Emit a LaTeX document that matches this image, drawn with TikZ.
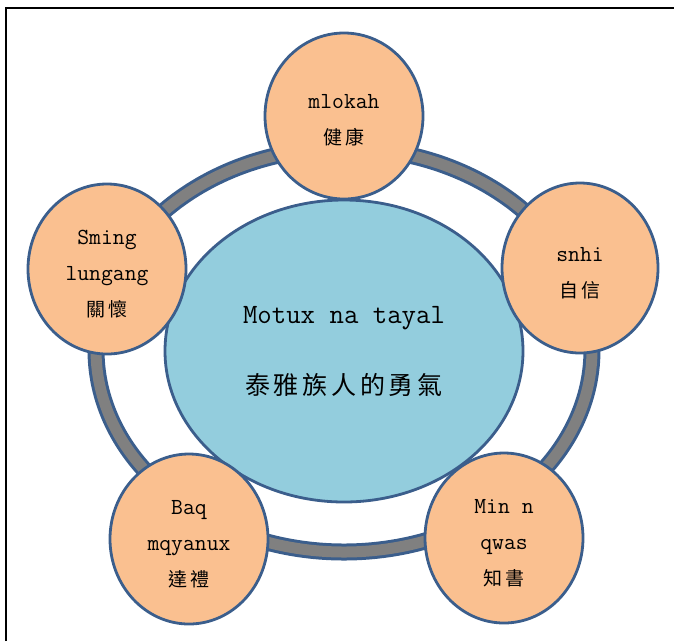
\documentclass[tikz,border=0pt]{standalone}
\usepackage{fontspec}
\newfontfamily\cjk[LetterSpace=15]{Noto Sans CJK TC}
\usetikzlibrary{shapes.geometric}
\definecolor{edgeblue}{HTML}{3B5E8C}
\definecolor{peach}{HTML}{FAC090}
\definecolor{skyfill}{HTML}{93CDDD}
\definecolor{ringgray}{HTML}{808080}

\begin{document}
\begin{tikzpicture}[x=1pt, y=-1pt, thick,
    main node/.style={ellipse, draw=edgeblue, line width=2.8pt, fill=peach, inner sep=0pt,
        minimum width=158pt, minimum height=170pt},
    caption/.style={align=center, yshift=-5pt, font=\ttfamily\fontsize{23}{36}\selectfont},
    hub node/.style={main node, fill=skyfill, minimum width=358pt, minimum height=302pt,
        align=center, font=\ttfamily\fontsize{28}{73}\selectfont}]
    \useasboundingbox (0,0) rectangle (674,641);
    % frame
    \draw[line width=2pt] (6,641) -- (6,8) -- (674,8);
    % ring
    \coordinate (ring) at (344,350);
    \draw[edgeblue, line width=17pt] (ring) ellipse [x radius=248, y radius=202];
    \draw[ringgray, line width=11pt] (ring) ellipse [x radius=248, y radius=202];
    % nodes
    \node[hub node] (0) at (344,351) {\raisebox{-2pt}{Motux na tayal}\\{\cjk\fontsize{25}{73}\selectfont 泰雅族人的勇氣}};
    \node[main node, minimum height=166pt, label={[caption, yshift=1pt]center:{mlokah\\{\cjk\fontsize{19}{36}\selectfont 健康}}}] (1) at (344,116) {};
    \node[main node, minimum width=156pt, label={[caption]center:{snhi\\{\cjk\fontsize{19}{36}\selectfont 自信}}}] (2) at (580,268) {};
    \node[main node, label={[caption]center:{Sming\\lungang\\{\cjk\fontsize{19}{36}\selectfont 關懷}}}] (3) at (107,269) {};
    \node[main node, label={[caption]center:{Baq\\mqyanux\\{\cjk\fontsize{19}{36}\selectfont 達禮}}}] (4) at (189,539) {};
    \node[main node, label={[caption]center:{Min n\\qwas\\{\cjk\fontsize{19}{36}\selectfont 知書}}}] (5) at (504,538) {};
\end{tikzpicture}
\end{document}
